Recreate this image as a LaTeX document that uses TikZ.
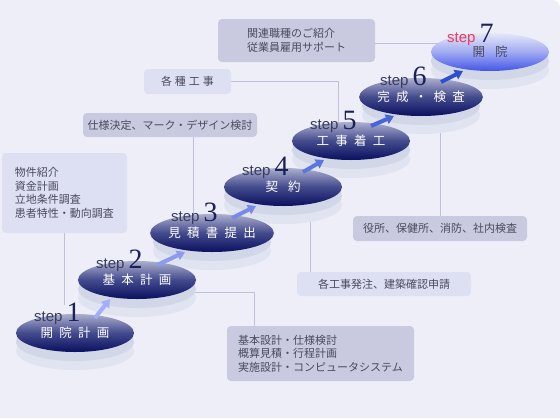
\documentclass[tikz,border=0pt]{standalone}
\usepackage{fontspec}
\setmainfont{Liberation Sans}
\newfontfamily\jpfont{Noto Sans CJK JP}
\newfontfamily\jpwide[LetterSpace=50]{Noto Sans CJK JP}
\newfontfamily\numfont{Liberation Serif}
\usetikzlibrary{arrows.meta,shapes.geometric}
\definecolor{bgcol}{HTML}{EEEEF8}
\definecolor{boxdark}{HTML}{C9CAE0}
\definecolor{boxlight}{HTML}{DDE0F3}
\definecolor{linkcol}{HTML}{BFC1DC}
\definecolor{boxtext}{HTML}{4A4A5C}
\definecolor{disctop}{HTML}{ABAFCE}
\definecolor{discmid}{HTML}{434A8C}
\definecolor{discbot}{HTML}{0B1060}
\definecolor{shadeA}{HTML}{D2D7E8}
\definecolor{shadeB}{HTML}{E0E3F0}
\definecolor{steptext}{HTML}{3A3C5E}
\definecolor{stepnum}{HTML}{1C2058}
\definecolor{lasttop}{HTML}{E6E8F8}
\definecolor{lastmid}{HTML}{A0AAF2}
\definecolor{lastbot}{HTML}{4356E6}
\definecolor{laststep}{HTML}{F03A5C}
\definecolor{arrlight}{HTML}{A4AEF8}
\definecolor{arrdark}{HTML}{2C50D0}
\pgfdeclarelayer{back}
\pgfdeclarelayer{wires}
\pgfsetlayers{back,wires,main}
\tikzset{
  disc/.style={ellipse, minimum width=118pt, minimum height=38pt, inner sep=0pt,
    top color=disctop, bottom color=discbot, middle color=discmid, text=white,
    font=\jpwide\fontsize{12.5}{14}\selectfont},
  lastdisc/.style={disc, top color=lasttop, bottom color=lastbot, middle color=lastmid, text=boxtext},
  infobox/.style={rounded corners=4pt, fill=boxdark, text=boxtext, inner sep=0pt,
    font=\jpfont\fontsize{11}{13.6}\selectfont, align=left},
  lightbox/.style={infobox, fill=boxlight},
  link/.style={draw=linkcol, line width=0.9pt},
  steplabel/.style={anchor=base west, inner sep=0pt, text=steptext, font=\fontsize{15}{15}\selectfont},
  steparrow/.style={line width=4pt, -{Triangle[length=8pt,width=10pt]}},
}
\newcommand\stepno[1]{{\numfont\fontsize{28}{28}\selectfont\color{stepnum}#1}}
\begin{document}
\begin{tikzpicture}[x=1pt,y=-1pt]
\useasboundingbox (0,0) rectangle (560,418);
\begin{pgfonlayer}{back}
\fill[white] (0,0) rectangle (560,418);
\fill[bgcol] (0,418) -- (0,0) [rounded corners=8pt] -- (560,0) [sharp corners] -- (560,418) -- cycle;
\end{pgfonlayer}
% step 7
\fill[shadeB] (490,70) ellipse [x radius=59pt, y radius=19pt];
\fill[shadeA] (490,61) ellipse [x radius=59pt, y radius=19pt];
\node[lastdisc] (s7) at (490,52) {開\hspace{10pt}院};
\node[steplabel, text=laststep] at (447,42) {step\hspace{4pt}\stepno{7}};
% steps 6 to 1
\foreach \n/\x/\y/\t in {6/421/97/完成・検査, 5/351/141/工事着工, 4/283/187/{契\hspace{10pt}約},
    3/212/233/見積書提出, 2/137/280/基本計画, 1/75/333/開院計画} {
  \fill[shadeB] (\x,\y+18) ellipse [x radius=59pt, y radius=19pt];
  \fill[shadeA] (\x,\y+9) ellipse [x radius=59pt, y radius=19pt];
  \node[disc] (s\n) at (\x,\y) {\t};
  \node[steplabel] at (\x-41,\y-12) {step\hspace{4pt}\stepno{\n}};
}
% boxes
\node[lightbox, minimum width=125pt, minimum height=80pt] (plan) at (64.5,193)
  {物件紹介\\資金計画\\立地条件調査\\患者特性・動向調査};
\node[infobox, minimum width=187pt, minimum height=55pt] (design) at (320.5,353.5)
  {基本設計・仕様検討\\概算見積・行程計画\\実施設計・コンピュータシステム};
\node[infobox, minimum width=174pt, minimum height=24pt] (spec) at (170,125) {仕様決定、マーク・デザイン検討};
\node[lightbox, minimum width=87pt, minimum height=25pt] (works) at (187.5,81.5)
  {各\hspace{3pt}種\hspace{3pt}工\hspace{3pt}事};
\node[infobox, minimum width=157pt, minimum height=43pt] (staff) at (296.5,40.5)
  {関連職種のご紹介\\従業員雇用サポート};
\node[infobox, minimum width=174pt, minimum height=25pt] (inspect) at (440,228.5) {役所、保健所、消防、社内検査};
\node[lightbox, minimum width=174pt, minimum height=24pt] (order) at (384,284) {各工事発注、建築確認申請};
% connectors
\begin{pgfonlayer}{wires}
\draw[link, shorten >=9pt] (plan.south) -- (plan.south |- s1.north);
\draw[link] (s2.center) -- ++(0,12) -| ([xshift=28pt]design.north west);
\draw[link] ([xshift=111pt]spec.south west) coordinate (c3) -- (c3 |- s3.center);
\draw[link] (works.east) -| ([xshift=-13pt]s5.center);
\draw[link] ([yshift=-2.5pt]staff.east) coordinate (c7) -- (c7 -| s7.center);
\draw[link] (inspect.north) -- (inspect.north |- s6.center);
\draw[link] ([xshift=14pt]order.north west) coordinate (c4) -- (c4 |- s4.center);
\end{pgfonlayer}
% arrows
\foreach \a/\b/\p in {1/2/100, 2/3/80, 3/4/62, 4/5/40, 5/6/22, 6/7/0}
  \draw[steparrow, color=arrlight!\p!arrdark] ([shift={(20pt,15pt)}]s\a.center) -- ([shift={(-27pt,-19pt)}]s\b.center);
\end{tikzpicture}
\end{document}
